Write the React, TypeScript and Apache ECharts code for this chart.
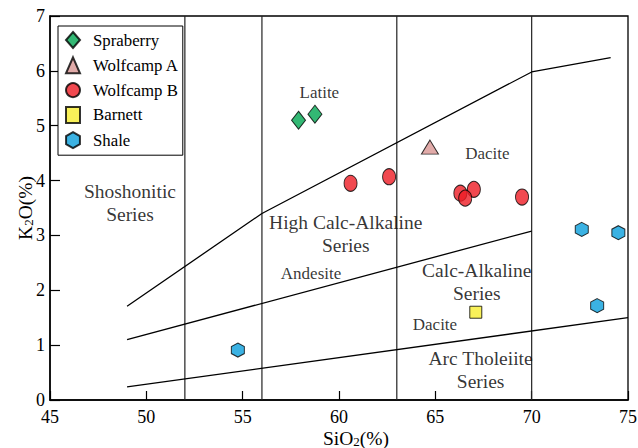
import React, { useEffect, useRef } from "react";
import * as echarts from "echarts";

const FONT = "Liberation Serif";

// Sample data (SiO2 %, K2O %)
const spraberry = [[57.9, 5.1], [58.75, 5.21]];
const wolfcampA = [[64.72, 4.61]];
const wolfcampB = [
  [60.6, 3.95],
  [62.6, 4.07],
  [66.3, 3.77],
  [67.0, 3.84],
  [66.55, 3.68],
  [69.5, 3.7],
];
const barnett = [[67.1, 1.6]];
const shale = [[54.75, 0.91], [72.6, 3.11], [74.5, 3.05], [73.4, 1.72]];

// Classification boundaries
const shoshoniticBoundary = [[49, 1.71], [56, 3.4], [70, 5.98], [74.1, 6.24]];
const highKBoundary = [[49, 1.1], [70, 3.08]];
const tholeiiteBoundary = [[49, 0.24], [75, 1.5]];
const silicaDividers = [52, 56, 63, 70];

// Field annotations [SiO2, K2O, text]
const seriesLabels = [
  [49.15, 3.59, "Shoshonitic\nSeries"],
  [60.35, 3.02, "High Calc-Alkaline\nSeries"],
  [67.15, 2.15, "Calc-Alkaline\nSeries"],
  [67.35, 0.55, "Arc Tholeiite\nSeries"],
];
const rockLabels = [
  [58.98, 5.6, "Latite"],
  [67.7, 4.5, "Dacite"],
  [58.55, 2.3, "Andesite"],
  [64.98, 1.38, "Dacite"],
];

const xTicks = { min: 45, max: 75, interval: 5 };
const yTicks = { min: 0, max: 7, interval: 1 };

export default function App() {
  const ref = useRef<HTMLDivElement>(null);
  useEffect(() => {
    if (!ref.current) return;
    const chart = echarts.init(ref.current, undefined, { renderer: "svg", width: 638, height: 448 });

    const boundary = (data: number[][]) => ({
      type: "line",
      data,
      symbol: "none",
      silent: true,
      lineStyle: { color: "#000", width: 1.3 },
      z: 1,
    });
    const dividerSeries = silicaDividers.map((x) => ({
      type: "line",
      data: [[x, yTicks.min], [x, yTicks.max]],
      symbol: "none",
      silent: true,
      lineStyle: { color: "#222", width: 1.2 },
      z: 1,
    }));
    const scatter = (name: string, data: number[][], symbol: string, size: number[], color: string) => ({
      name,
      type: "scatter",
      data,
      symbol,
      symbolSize: size,
      itemStyle: { color, borderColor: "#000", borderWidth: 1 },
      z: 5,
    });
    const annot = (data: any[], fontSize: number, lineHeight: number) => ({
      type: "scatter",
      data: data.map((d) => ({ value: [d[0], d[1]], name: d[2] })),
      symbolSize: 0,
      silent: true,
      label: {
        show: true,
        position: "inside",
        formatter: (p: any) => p.name,
        color: "#000",
        fontFamily: FONT,
        fontSize,
        lineHeight,
        align: "center",
        verticalAlign: "middle",
      },
      z: 3,
    });

    const hexagon = "path://M0,-1 L0.866,-0.5 L0.866,0.5 L0,1 L-0.866,0.5 L-0.866,-0.5 Z";

    chart.setOption({
      animation: false,
      backgroundColor: "#fff",
      textStyle: { fontFamily: FONT },
      grid: {
        left: 50,
        right: 10,
        top: 16,
        bottom: 48,
        outerBoundsMode: "none",
        containLabel: false,
        show: true,
        borderColor: "#000",
        borderWidth: 1.3,
      },
      xAxis: {
        type: "value",
        min: xTicks.min,
        max: xTicks.max,
        interval: xTicks.interval,
        name: "SiO{sub|2}(%)",
        nameLocation: "middle",
        nameGap: 28,
        nameMoveOverlap: false,
        nameTextStyle: {
          color: "#000",
          fontFamily: FONT,
          fontSize: 19.5,
          lineHeight: 20,
          padding: [0, 0, 0, 34],
          rich: {
            sub: { fontSize: 13, fontFamily: FONT, color: "#000", verticalAlign: "bottom", lineHeight: 14 },
          },
        },
        axisLine: { lineStyle: { color: "#000", width: 1.5 } },
        axisTick: { inside: true, length: 9, lineStyle: { color: "#000", width: 1.2 } },
        axisLabel: { color: "#000", fontFamily: FONT, fontSize: 18, margin: 8 },
        splitLine: { show: false },
      },
      yAxis: {
        type: "value",
        min: yTicks.min,
        max: yTicks.max,
        interval: yTicks.interval,
        name: "K{sub|2}O(%)",
        nameLocation: "middle",
        nameGap: 15,
        nameRotate: 90,
        nameMoveOverlap: false,
        nameTextStyle: {
          color: "#000",
          fontFamily: FONT,
          fontSize: 19.5,
          lineHeight: 20,
          rich: {
            sub: { fontSize: 13, fontFamily: FONT, color: "#000", verticalAlign: "bottom", lineHeight: 14 },
          },
        },
        axisLine: { lineStyle: { color: "#000", width: 1.5 } },
        axisTick: { inside: true, length: 10, lineStyle: { color: "#000", width: 1.2 } },
        axisLabel: { color: "#000", fontFamily: FONT, fontSize: 18, margin: 5 },
        splitLine: { show: false },
      },
      legend: {
        orient: "vertical",
        left: 58,
        top: 26,
        padding: [5, 4, 6, 7],
        itemWidth: 14,
        itemHeight: 16,
        itemGap: 7.3,
        backgroundColor: "#fff",
        borderColor: "#000",
        borderWidth: 1,
        borderRadius: 0,
        data: ["Spraberry", "Wolfcamp A", "Wolfcamp B", "Barnett", "Shale"],
        textStyle: {
          color: "#000",
          fontFamily: FONT,
          fontSize: 16.8,
          padding: [0, 0, 0, 8],
        },
      },
      series: [
        ...dividerSeries,
        boundary(shoshoniticBoundary),
        boundary(highKBoundary),
        boundary(tholeiiteBoundary),
        annot(seriesLabels, 19.5, 23),
        annot(rockLabels, 17, 20),
        scatter("Spraberry", spraberry, "diamond", [14, 18], "#00a651"),
        scatter("Wolfcamp A", wolfcampA, "triangle", [17, 14], "#d99694"),
        scatter("Wolfcamp B", wolfcampB, "circle", [13, 16], "#ed1c24"),
        scatter("Barnett", barnett, "rect", [12, 12], "#f7ee2f"),
        scatter("Shale", shale, hexagon, [13, 14], "#0a9fdc"),
      ],
    });
    return () => chart.dispose();
  }, []);

  return (
    <div
      ref={ref}
      style={{ position: "fixed", left: 0, top: 0, width: 638, height: 448, background: "#fff" }}
    />
  );
}
